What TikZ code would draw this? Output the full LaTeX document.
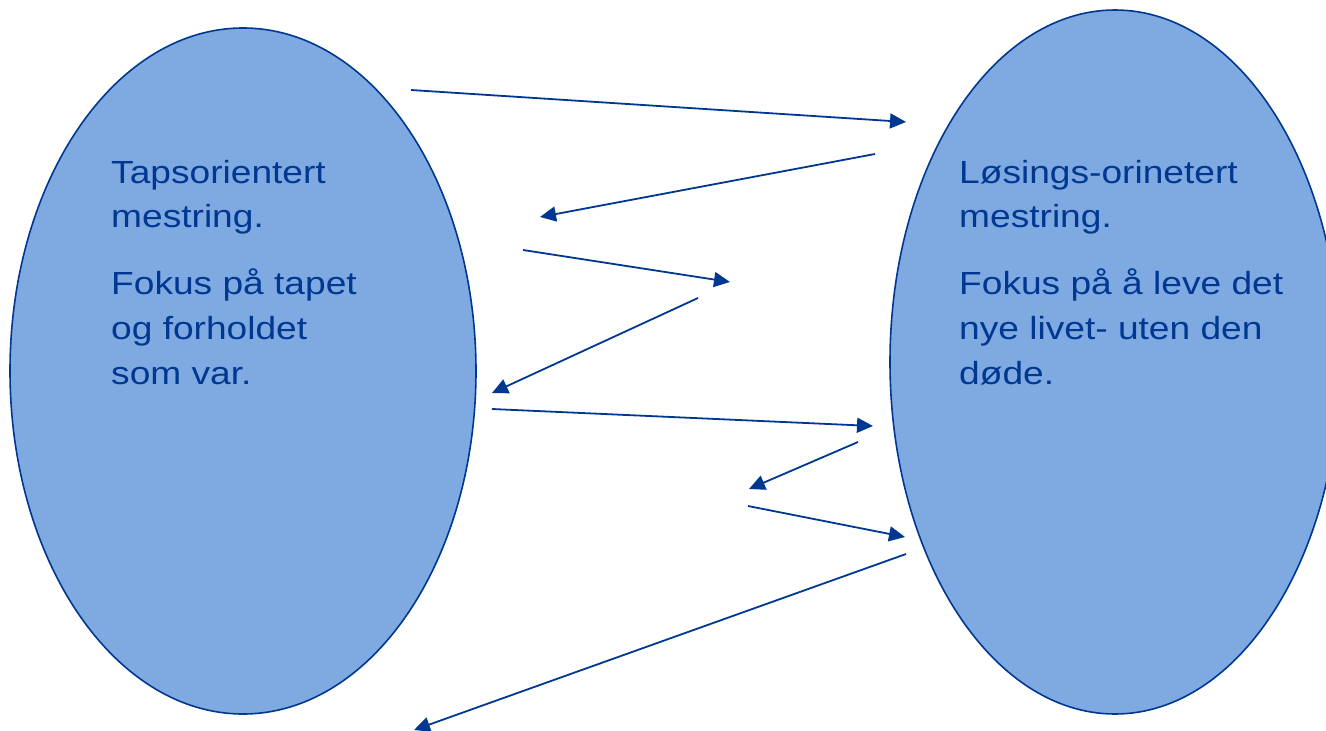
\documentclass[tikz,border=0pt]{standalone}
\usepackage{fontspec}
\setmainfont{Liberation Sans}
\newfontfamily\slidefont[FakeStretch=1.16]{Liberation Sans}
\usetikzlibrary{shapes.geometric,arrows.meta}
\definecolor{fillblue}{RGB}{126,169,225}
\definecolor{darkblue}{RGB}{0,56,145}
\tikzset{
  blob/.style={ellipse, draw=darkblue, fill=fillblue, line width=1.6pt, inner sep=0pt},
  txt/.style={anchor=base west, inner sep=0pt, text=darkblue, font=\slidefont\fontsize{32}{40}\selectfont},
  arr/.style={draw=darkblue, line width=1.8pt, -{Triangle[length=16pt,width=15pt]}}
}
\begin{document}
\begin{tikzpicture}[x=1pt,y=-1pt]
\useasboundingbox (0,0) rectangle (1326,731);
\clip (0,0) rectangle (1326,731);
\node[blob, minimum width=466pt, minimum height=686pt] (L) at (243,371) {};
\node[blob, minimum width=450pt, minimum height=704pt] (R) at (1115,362) {};

\node[txt] (l1) at (111,183) {Tapsorientert};
\node[txt] (l2) at (111,227) {mestring.};
\node[txt] (l3) at (111,294) {Fokus på tapet};
\node[txt] (l4) at (111,339) {og forholdet};
\node[txt] (l5) at (111,384) {som var.};

\node[txt] (r1) at (959,183) {Løsings-orinetert};
\node[txt] (r2) at (959,227) {mestring.};
\node[txt] (r3) at (959,294) {Fokus på å leve det};
\node[txt] (r4) at (959,339) {nye livet- uten den};
\node[txt] (r5) at (959,384) {døde.};

\coordinate (a1s) at (411,90);  \coordinate (a1e) at (906,122);
\coordinate (a2s) at (875,154); \coordinate (a2e) at (540,217);
\coordinate (a3s) at (523,250); \coordinate (a3e) at (730,282);
\coordinate (a4s) at (698,298); \coordinate (a4e) at (492,393);
\coordinate (a5s) at (492,409); \coordinate (a5e) at (873,426);
\coordinate (a6s) at (858,442); \coordinate (a6e) at (749,489);
\coordinate (a7s) at (748,506); \coordinate (a7e) at (905,537);
\coordinate (a8s) at (906,554); \coordinate (a8e) at (414,730);

\draw[arr] (a1s) -- (a1e);
\draw[arr] (a2s) -- (a2e);
\draw[arr] (a3s) -- (a3e);
\draw[arr] (a4s) -- (a4e);
\draw[arr] (a5s) -- (a5e);
\draw[arr] (a6s) -- (a6e);
\draw[arr] (a7s) -- (a7e);
\draw[arr] (a8s) -- (a8e);
\end{tikzpicture}
\end{document}
